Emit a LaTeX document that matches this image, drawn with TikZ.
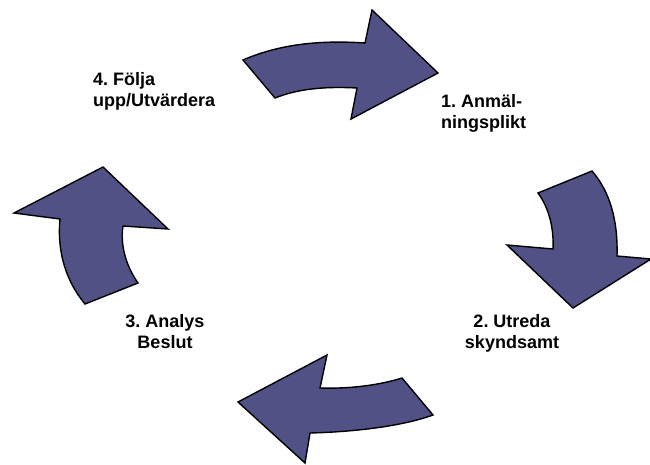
\documentclass[tikz,border=0pt]{standalone}
\usepackage{fontspec}
\setmainfont{Liberation Sans}
\frenchspacing
\definecolor{arrowfill}{RGB}{81,81,133}
\tikzset{
  bigarrow/.style={fill=arrowfill, draw=black, line width=1.4pt, line join=miter},
  lbl/.style={font=\bfseries\fontsize{18}{21}\selectfont, inner sep=0pt, text=black}
}
\begin{document}
\begin{tikzpicture}[x=1pt,y=-1pt]
\useasboundingbox (0,0) rectangle (650,464);
\clip (0,0) rectangle (650,464);
% arrow 1 (top)
\draw[bigarrow] (243,60) .. controls (280,44) and (320,40) .. (365,43) -- (372,10) -- (438,73) -- (351,119) -- (357,88) .. controls (320,86) and (295,90) .. (275,98) -- cycle;
% arrow 2 (right)
\draw[bigarrow] (592,171) .. controls (610,192) and (618,220) .. (617,256) -- (651,259) -- (573,308) -- (507,245) -- (553,249) .. controls (554,228) and (549,208) .. (538,193) -- cycle;
% arrow 3 (bottom)
\draw[bigarrow] (402,378) .. controls (380,385) and (350,389) .. (320,388) -- (327,355) -- (238,402) -- (305,463) -- (310,433) .. controls (350,432) and (400,427) .. (433,415) -- cycle;
% arrow 4 (left)
\draw[bigarrow] (85,304) -- (138,283) .. controls (126,266) and (120,245) .. (123,226) -- (168,229) -- (103,167) -- (14,213) -- (60,219) .. controls (57,250) and (65,280) .. (85,304) -- cycle;
% labels
\node[lbl, anchor=north west, align=left] (l1) at (441,94) {1. Anmäl-\\ningsplikt};
\node[lbl, anchor=north, align=center] (l2) at (512,314) {2. Utreda\\skyndsamt};
\node[lbl, anchor=north, align=center] (l3) at (165,314) {3. Analys\\Beslut};
\node[lbl, anchor=north west, align=left] (l4) at (93,72) {4. Följa\\upp/Utvärdera};
\end{tikzpicture}
\end{document}
